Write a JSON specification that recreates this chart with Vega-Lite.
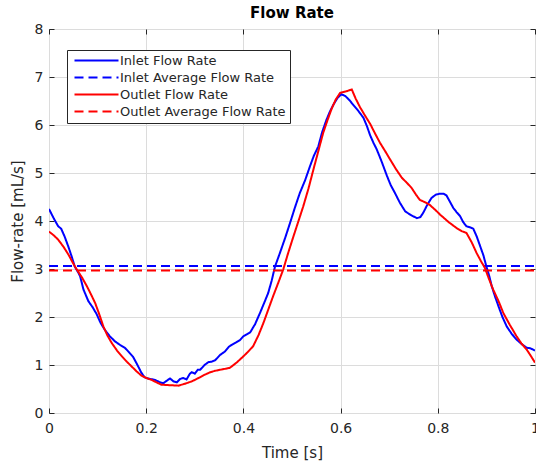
{
  "$schema": "https://vega.github.io/schema/vega-lite/v6.json",
  "width": 486,
  "height": 384,
  "autosize": {"type": "none"},
  "padding": {"left": 49, "top": 29, "right": 1, "bottom": 49},
  "background": "white",
  "title": {"text": "Flow Rate", "font": "DejaVu Sans", "fontSize": 15, "fontWeight": "bold", "color": "#000000", "offset": 1, "anchor": "middle"},
  "config": {"view": {"stroke": "#262626", "strokeWidth": 1}, "font": "DejaVu Sans"},
  "data": {"values": [
    {"t":0,"v":4.25,"s":"Inlet Flow Rate"},{"t":0.01,"v":4.05,"s":"Inlet Flow Rate"},{"t":0.019,"v":3.89,"s":"Inlet Flow Rate"},{"t":0.025,"v":3.84,"s":"Inlet Flow Rate"},{"t":0.032,"v":3.68,"s":"Inlet Flow Rate"},{"t":0.04,"v":3.46,"s":"Inlet Flow Rate"},{"t":0.047,"v":3.25,"s":"Inlet Flow Rate"},{"t":0.053,"v":3.05,"s":"Inlet Flow Rate"},{"t":0.06,"v":2.93,"s":"Inlet Flow Rate"},{"t":0.064,"v":2.85,"s":"Inlet Flow Rate"},{"t":0.071,"v":2.57,"s":"Inlet Flow Rate"},{"t":0.081,"v":2.33,"s":"Inlet Flow Rate"},{"t":0.09,"v":2.2,"s":"Inlet Flow Rate"},{"t":0.098,"v":2.06,"s":"Inlet Flow Rate"},{"t":0.106,"v":1.88,"s":"Inlet Flow Rate"},{"t":0.115,"v":1.73,"s":"Inlet Flow Rate"},{"t":0.125,"v":1.6,"s":"Inlet Flow Rate"},{"t":0.136,"v":1.49,"s":"Inlet Flow Rate"},{"t":0.146,"v":1.42,"s":"Inlet Flow Rate"},{"t":0.156,"v":1.36,"s":"Inlet Flow Rate"},{"t":0.165,"v":1.26,"s":"Inlet Flow Rate"},{"t":0.173,"v":1.17,"s":"Inlet Flow Rate"},{"t":0.182,"v":1.0,"s":"Inlet Flow Rate"},{"t":0.19,"v":0.84,"s":"Inlet Flow Rate"},{"t":0.197,"v":0.74,"s":"Inlet Flow Rate"},{"t":0.208,"v":0.71,"s":"Inlet Flow Rate"},{"t":0.218,"v":0.69,"s":"Inlet Flow Rate"},{"t":0.228,"v":0.64,"s":"Inlet Flow Rate"},{"t":0.235,"v":0.62,"s":"Inlet Flow Rate"},{"t":0.242,"v":0.67,"s":"Inlet Flow Rate"},{"t":0.249,"v":0.72,"s":"Inlet Flow Rate"},{"t":0.256,"v":0.66,"s":"Inlet Flow Rate"},{"t":0.263,"v":0.64,"s":"Inlet Flow Rate"},{"t":0.27,"v":0.71,"s":"Inlet Flow Rate"},{"t":0.276,"v":0.73,"s":"Inlet Flow Rate"},{"t":0.283,"v":0.7,"s":"Inlet Flow Rate"},{"t":0.29,"v":0.82,"s":"Inlet Flow Rate"},{"t":0.294,"v":0.85,"s":"Inlet Flow Rate"},{"t":0.3,"v":0.82,"s":"Inlet Flow Rate"},{"t":0.306,"v":0.9,"s":"Inlet Flow Rate"},{"t":0.311,"v":0.9,"s":"Inlet Flow Rate"},{"t":0.32,"v":1.0,"s":"Inlet Flow Rate"},{"t":0.328,"v":1.06,"s":"Inlet Flow Rate"},{"t":0.335,"v":1.07,"s":"Inlet Flow Rate"},{"t":0.342,"v":1.1,"s":"Inlet Flow Rate"},{"t":0.352,"v":1.21,"s":"Inlet Flow Rate"},{"t":0.362,"v":1.28,"s":"Inlet Flow Rate"},{"t":0.37,"v":1.38,"s":"Inlet Flow Rate"},{"t":0.376,"v":1.42,"s":"Inlet Flow Rate"},{"t":0.385,"v":1.47,"s":"Inlet Flow Rate"},{"t":0.393,"v":1.52,"s":"Inlet Flow Rate"},{"t":0.4,"v":1.6,"s":"Inlet Flow Rate"},{"t":0.407,"v":1.64,"s":"Inlet Flow Rate"},{"t":0.414,"v":1.68,"s":"Inlet Flow Rate"},{"t":0.424,"v":1.85,"s":"Inlet Flow Rate"},{"t":0.434,"v":2.08,"s":"Inlet Flow Rate"},{"t":0.443,"v":2.3,"s":"Inlet Flow Rate"},{"t":0.451,"v":2.5,"s":"Inlet Flow Rate"},{"t":0.458,"v":2.75,"s":"Inlet Flow Rate"},{"t":0.465,"v":3.05,"s":"Inlet Flow Rate"},{"t":0.475,"v":3.33,"s":"Inlet Flow Rate"},{"t":0.486,"v":3.65,"s":"Inlet Flow Rate"},{"t":0.496,"v":3.96,"s":"Inlet Flow Rate"},{"t":0.506,"v":4.28,"s":"Inlet Flow Rate"},{"t":0.516,"v":4.58,"s":"Inlet Flow Rate"},{"t":0.527,"v":4.85,"s":"Inlet Flow Rate"},{"t":0.537,"v":5.14,"s":"Inlet Flow Rate"},{"t":0.545,"v":5.36,"s":"Inlet Flow Rate"},{"t":0.554,"v":5.55,"s":"Inlet Flow Rate"},{"t":0.562,"v":5.85,"s":"Inlet Flow Rate"},{"t":0.571,"v":6.11,"s":"Inlet Flow Rate"},{"t":0.578,"v":6.28,"s":"Inlet Flow Rate"},{"t":0.585,"v":6.42,"s":"Inlet Flow Rate"},{"t":0.594,"v":6.57,"s":"Inlet Flow Rate"},{"t":0.602,"v":6.64,"s":"Inlet Flow Rate"},{"t":0.61,"v":6.6,"s":"Inlet Flow Rate"},{"t":0.618,"v":6.52,"s":"Inlet Flow Rate"},{"t":0.626,"v":6.42,"s":"Inlet Flow Rate"},{"t":0.636,"v":6.3,"s":"Inlet Flow Rate"},{"t":0.647,"v":6.15,"s":"Inlet Flow Rate"},{"t":0.654,"v":5.98,"s":"Inlet Flow Rate"},{"t":0.661,"v":5.78,"s":"Inlet Flow Rate"},{"t":0.668,"v":5.62,"s":"Inlet Flow Rate"},{"t":0.674,"v":5.5,"s":"Inlet Flow Rate"},{"t":0.684,"v":5.25,"s":"Inlet Flow Rate"},{"t":0.695,"v":4.95,"s":"Inlet Flow Rate"},{"t":0.703,"v":4.75,"s":"Inlet Flow Rate"},{"t":0.712,"v":4.58,"s":"Inlet Flow Rate"},{"t":0.722,"v":4.38,"s":"Inlet Flow Rate"},{"t":0.733,"v":4.2,"s":"Inlet Flow Rate"},{"t":0.745,"v":4.12,"s":"Inlet Flow Rate"},{"t":0.757,"v":4.06,"s":"Inlet Flow Rate"},{"t":0.764,"v":4.08,"s":"Inlet Flow Rate"},{"t":0.77,"v":4.17,"s":"Inlet Flow Rate"},{"t":0.778,"v":4.33,"s":"Inlet Flow Rate"},{"t":0.787,"v":4.48,"s":"Inlet Flow Rate"},{"t":0.796,"v":4.55,"s":"Inlet Flow Rate"},{"t":0.805,"v":4.57,"s":"Inlet Flow Rate"},{"t":0.812,"v":4.57,"s":"Inlet Flow Rate"},{"t":0.818,"v":4.53,"s":"Inlet Flow Rate"},{"t":0.825,"v":4.4,"s":"Inlet Flow Rate"},{"t":0.832,"v":4.27,"s":"Inlet Flow Rate"},{"t":0.839,"v":4.18,"s":"Inlet Flow Rate"},{"t":0.846,"v":4.1,"s":"Inlet Flow Rate"},{"t":0.852,"v":3.98,"s":"Inlet Flow Rate"},{"t":0.859,"v":3.89,"s":"Inlet Flow Rate"},{"t":0.866,"v":3.87,"s":"Inlet Flow Rate"},{"t":0.873,"v":3.84,"s":"Inlet Flow Rate"},{"t":0.88,"v":3.68,"s":"Inlet Flow Rate"},{"t":0.887,"v":3.48,"s":"Inlet Flow Rate"},{"t":0.894,"v":3.28,"s":"Inlet Flow Rate"},{"t":0.9,"v":3.05,"s":"Inlet Flow Rate"},{"t":0.906,"v":2.85,"s":"Inlet Flow Rate"},{"t":0.911,"v":2.64,"s":"Inlet Flow Rate"},{"t":0.918,"v":2.42,"s":"Inlet Flow Rate"},{"t":0.925,"v":2.22,"s":"Inlet Flow Rate"},{"t":0.933,"v":2.0,"s":"Inlet Flow Rate"},{"t":0.942,"v":1.8,"s":"Inlet Flow Rate"},{"t":0.952,"v":1.65,"s":"Inlet Flow Rate"},{"t":0.962,"v":1.53,"s":"Inlet Flow Rate"},{"t":0.972,"v":1.44,"s":"Inlet Flow Rate"},{"t":0.983,"v":1.36,"s":"Inlet Flow Rate"},{"t":0.99,"v":1.35,"s":"Inlet Flow Rate"},{"t":1.0,"v":1.3,"s":"Inlet Flow Rate"},
    {"t":0,"v":3.06,"s":"Inlet Average Flow Rate"},{"t":1,"v":3.06,"s":"Inlet Average Flow Rate"},
    {"t":0,"v":3.78,"s":"Outlet Flow Rate"},{"t":0.01,"v":3.7,"s":"Outlet Flow Rate"},{"t":0.019,"v":3.61,"s":"Outlet Flow Rate"},{"t":0.03,"v":3.46,"s":"Outlet Flow Rate"},{"t":0.04,"v":3.3,"s":"Outlet Flow Rate"},{"t":0.048,"v":3.15,"s":"Outlet Flow Rate"},{"t":0.057,"v":2.99,"s":"Outlet Flow Rate"},{"t":0.068,"v":2.82,"s":"Outlet Flow Rate"},{"t":0.078,"v":2.64,"s":"Outlet Flow Rate"},{"t":0.086,"v":2.48,"s":"Outlet Flow Rate"},{"t":0.095,"v":2.29,"s":"Outlet Flow Rate"},{"t":0.104,"v":2.04,"s":"Outlet Flow Rate"},{"t":0.112,"v":1.8,"s":"Outlet Flow Rate"},{"t":0.12,"v":1.62,"s":"Outlet Flow Rate"},{"t":0.129,"v":1.46,"s":"Outlet Flow Rate"},{"t":0.14,"v":1.3,"s":"Outlet Flow Rate"},{"t":0.15,"v":1.18,"s":"Outlet Flow Rate"},{"t":0.16,"v":1.07,"s":"Outlet Flow Rate"},{"t":0.17,"v":0.97,"s":"Outlet Flow Rate"},{"t":0.18,"v":0.87,"s":"Outlet Flow Rate"},{"t":0.19,"v":0.78,"s":"Outlet Flow Rate"},{"t":0.2,"v":0.73,"s":"Outlet Flow Rate"},{"t":0.211,"v":0.69,"s":"Outlet Flow Rate"},{"t":0.221,"v":0.64,"s":"Outlet Flow Rate"},{"t":0.231,"v":0.59,"s":"Outlet Flow Rate"},{"t":0.248,"v":0.58,"s":"Outlet Flow Rate"},{"t":0.266,"v":0.57,"s":"Outlet Flow Rate"},{"t":0.28,"v":0.61,"s":"Outlet Flow Rate"},{"t":0.294,"v":0.66,"s":"Outlet Flow Rate"},{"t":0.308,"v":0.73,"s":"Outlet Flow Rate"},{"t":0.321,"v":0.8,"s":"Outlet Flow Rate"},{"t":0.332,"v":0.85,"s":"Outlet Flow Rate"},{"t":0.342,"v":0.88,"s":"Outlet Flow Rate"},{"t":0.357,"v":0.91,"s":"Outlet Flow Rate"},{"t":0.372,"v":0.94,"s":"Outlet Flow Rate"},{"t":0.386,"v":1.05,"s":"Outlet Flow Rate"},{"t":0.4,"v":1.18,"s":"Outlet Flow Rate"},{"t":0.41,"v":1.28,"s":"Outlet Flow Rate"},{"t":0.42,"v":1.39,"s":"Outlet Flow Rate"},{"t":0.431,"v":1.62,"s":"Outlet Flow Rate"},{"t":0.441,"v":1.87,"s":"Outlet Flow Rate"},{"t":0.451,"v":2.15,"s":"Outlet Flow Rate"},{"t":0.461,"v":2.43,"s":"Outlet Flow Rate"},{"t":0.472,"v":2.72,"s":"Outlet Flow Rate"},{"t":0.482,"v":2.99,"s":"Outlet Flow Rate"},{"t":0.492,"v":3.33,"s":"Outlet Flow Rate"},{"t":0.503,"v":3.68,"s":"Outlet Flow Rate"},{"t":0.513,"v":3.99,"s":"Outlet Flow Rate"},{"t":0.523,"v":4.3,"s":"Outlet Flow Rate"},{"t":0.534,"v":4.68,"s":"Outlet Flow Rate"},{"t":0.544,"v":5.07,"s":"Outlet Flow Rate"},{"t":0.554,"v":5.45,"s":"Outlet Flow Rate"},{"t":0.564,"v":5.83,"s":"Outlet Flow Rate"},{"t":0.573,"v":6.1,"s":"Outlet Flow Rate"},{"t":0.582,"v":6.35,"s":"Outlet Flow Rate"},{"t":0.59,"v":6.53,"s":"Outlet Flow Rate"},{"t":0.599,"v":6.67,"s":"Outlet Flow Rate"},{"t":0.611,"v":6.7,"s":"Outlet Flow Rate"},{"t":0.623,"v":6.74,"s":"Outlet Flow Rate"},{"t":0.631,"v":6.55,"s":"Outlet Flow Rate"},{"t":0.64,"v":6.37,"s":"Outlet Flow Rate"},{"t":0.65,"v":6.2,"s":"Outlet Flow Rate"},{"t":0.661,"v":6.02,"s":"Outlet Flow Rate"},{"t":0.671,"v":5.82,"s":"Outlet Flow Rate"},{"t":0.681,"v":5.63,"s":"Outlet Flow Rate"},{"t":0.692,"v":5.45,"s":"Outlet Flow Rate"},{"t":0.702,"v":5.28,"s":"Outlet Flow Rate"},{"t":0.714,"v":5.08,"s":"Outlet Flow Rate"},{"t":0.726,"v":4.9,"s":"Outlet Flow Rate"},{"t":0.736,"v":4.8,"s":"Outlet Flow Rate"},{"t":0.746,"v":4.69,"s":"Outlet Flow Rate"},{"t":0.755,"v":4.55,"s":"Outlet Flow Rate"},{"t":0.763,"v":4.44,"s":"Outlet Flow Rate"},{"t":0.774,"v":4.39,"s":"Outlet Flow Rate"},{"t":0.784,"v":4.33,"s":"Outlet Flow Rate"},{"t":0.795,"v":4.23,"s":"Outlet Flow Rate"},{"t":0.805,"v":4.13,"s":"Outlet Flow Rate"},{"t":0.822,"v":3.98,"s":"Outlet Flow Rate"},{"t":0.839,"v":3.85,"s":"Outlet Flow Rate"},{"t":0.849,"v":3.79,"s":"Outlet Flow Rate"},{"t":0.859,"v":3.75,"s":"Outlet Flow Rate"},{"t":0.87,"v":3.55,"s":"Outlet Flow Rate"},{"t":0.88,"v":3.33,"s":"Outlet Flow Rate"},{"t":0.889,"v":3.16,"s":"Outlet Flow Rate"},{"t":0.897,"v":3.02,"s":"Outlet Flow Rate"},{"t":0.905,"v":2.8,"s":"Outlet Flow Rate"},{"t":0.914,"v":2.57,"s":"Outlet Flow Rate"},{"t":0.925,"v":2.33,"s":"Outlet Flow Rate"},{"t":0.935,"v":2.08,"s":"Outlet Flow Rate"},{"t":0.948,"v":1.84,"s":"Outlet Flow Rate"},{"t":0.962,"v":1.6,"s":"Outlet Flow Rate"},{"t":0.972,"v":1.45,"s":"Outlet Flow Rate"},{"t":0.983,"v":1.32,"s":"Outlet Flow Rate"},{"t":0.992,"v":1.18,"s":"Outlet Flow Rate"},{"t":1.0,"v":1.05,"s":"Outlet Flow Rate"},
    {"t":0,"v":2.97,"s":"Outlet Average Flow Rate"},{"t":1,"v":2.97,"s":"Outlet Average Flow Rate"}
  ]},
  "layer": [
    {
      "mark": {"type": "line", "strokeWidth": 2, "clip": true},
      "encoding": {
        "x": {"field": "t", "type": "quantitative", "scale": {"domain": [0, 1], "nice": false, "zero": false},
          "axis": {"values": [0, 0.2, 0.4, 0.6, 0.8, 1], "format": "~g", "title": "Time [s]", "titleFontSize": 15, "titleFontWeight": "normal", "titleColor": "#262626", "titlePadding": 10, "labelFontSize": 14, "labelColor": "#262626", "labelPadding": 13, "labelFlush": false, "tickSize": -5, "tickColor": "#262626", "grid": true, "gridColor": "#dcdcdc", "domain": false}},
        "y": {"field": "v", "type": "quantitative", "scale": {"domain": [0, 8], "nice": false, "zero": false},
          "axis": {"values": [0, 1, 2, 3, 4, 5, 6, 7, 8], "title": "Flow-rate [mL/s]", "titleFontSize": 15, "titleFontWeight": "normal", "titleColor": "#262626", "titlePadding": 9, "labelFontSize": 14, "labelColor": "#262626", "labelPadding": 11, "labelFlush": false, "tickSize": -5, "tickColor": "#262626", "grid": true, "gridColor": "#dcdcdc", "domain": false}},
        "color": {"field": "s", "type": "nominal",
          "scale": {"domain": ["Inlet Flow Rate", "Inlet Average Flow Rate", "Outlet Flow Rate", "Outlet Average Flow Rate"], "range": ["#0000ff", "#0000ff", "#ff0000", "#ff0000"]},
          "legend": {"title": null, "orient": "none", "legendX": 18, "legendY": 21, "symbolType": "M-11,0H11", "symbolSize": 16, "symbolStrokeWidth": 2, "symbolOffset": 19, "labelOffset": 17, "labelLimit": 400, "labelFontSize": 13, "labelColor": "#262626", "labelFont": "DejaVu Sans", "strokeColor": "#262626", "fillColor": "#ffffff", "padding": 4, "rowPadding": 3}},
        "strokeDash": {"field": "s", "type": "nominal",
          "scale": {"domain": ["Inlet Flow Rate", "Inlet Average Flow Rate", "Outlet Flow Rate", "Outlet Average Flow Rate"], "range": [[1, 0], [9, 5], [1, 0], [9, 5]]},
          "legend": {"title": null, "orient": "none", "legendX": 18, "legendY": 21, "symbolType": "M-11,0H11", "symbolSize": 16, "symbolStrokeWidth": 2, "symbolOffset": 19, "labelOffset": 17, "labelLimit": 400, "labelFontSize": 13, "labelColor": "#262626", "labelFont": "DejaVu Sans", "strokeColor": "#262626", "fillColor": "#ffffff", "padding": 4, "rowPadding": 3}}
      }
    },
    {
      "mark": {"type": "point", "opacity": 0},
      "encoding": {
        "x": {"field": "t", "type": "quantitative", "scale": {"domain": [0, 1], "nice": false, "zero": false},
          "axis": {"orient": "top", "values": [0, 0.2, 0.4, 0.6, 0.8, 1], "labels": false, "title": null, "tickSize": -5, "tickColor": "#262626", "grid": false, "domain": false}},
        "y": {"field": "v", "type": "quantitative", "scale": {"domain": [0, 8], "nice": false, "zero": false},
          "axis": {"orient": "right", "values": [0, 1, 2, 3, 4, 5, 6, 7, 8], "labels": false, "title": null, "tickSize": -5, "tickColor": "#262626", "grid": false, "domain": false}}
      }
    }
  ],
  "resolve": {"axis": {"x": "independent", "y": "independent"}}
}
